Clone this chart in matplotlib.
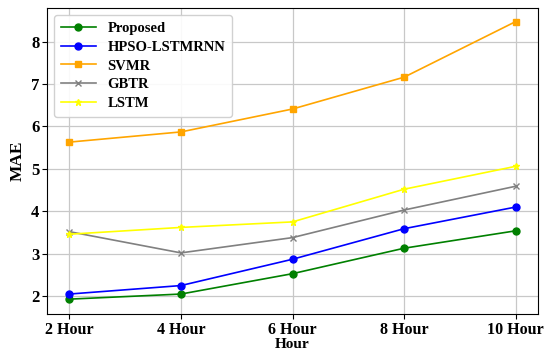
import matplotlib
matplotlib.use("Agg")
import matplotlib.pyplot as plt

plt.rcParams['font.family'] = ['Liberation Serif', 'DejaVu Serif']
plt.rcParams['font.weight'] = 'bold'

hours = ['2 Hour', '4 Hour', '6 Hour', '8 Hour', '10 Hour']
proposed = [1.93, 2.05, 2.53, 3.13, 3.54]
hpso = [2.05, 2.25, 2.87, 3.59, 4.10]
svmr = [5.63, 5.87, 6.41, 7.16, 8.47]
gbtr = [3.52, 3.02, 3.38, 4.03, 4.59]
lstm = [3.46, 3.62, 3.75, 4.52, 5.06]

fig = plt.figure(figsize=(5.47, 3.52), dpi=100)
ax = fig.add_axes([47 / 547, 1 - 314 / 352, 491 / 547, 306 / 352])

x = range(len(hours))
ax.plot(x, proposed, color='green', marker='o', ms=5, lw=1.2, label='Proposed')
ax.plot(x, hpso, color='blue', marker='o', ms=5, lw=1.2, label='HPSO-LSTMRNN')
ax.plot(x, svmr, color='orange', marker='s', ms=5, lw=1.2, label='SVMR')
ax.plot(x, gbtr, color='gray', marker='x', ms=5, lw=1.2, label='GBTR')
ax.plot(x, lstm, color='yellow', marker='*', ms=5, lw=1.2, label='LSTM')

ax.set_xticks(list(x))
ax.set_xticklabels(hours)
ax.set_xlim(-0.2, 4.2)
ax.set_ylim(1.58, 8.79)
ax.set_yticks([2, 3, 4, 5, 6, 7, 8])
ax.tick_params(axis='y', labelsize=12, pad=2)
ax.tick_params(axis='x', labelsize=11.5, pad=2)
for lab in ax.get_xticklabels() + ax.get_yticklabels():
    lab.set_fontweight('bold')
ax.grid(True, color='#c8c8c8', lw=0.9)
ax.set_axisbelow(True)
ax.set_xlabel('Hour', fontsize=11, fontweight='bold', labelpad=0)
ax.set_ylabel('MAE', fontsize=12.5, fontweight='bold', labelpad=4)

ax.legend(loc='upper left', prop={'weight': 'bold', 'size': 10.5},
          handlelength=2.4, labelspacing=0.38, borderpad=0.45, framealpha=0.9)

fig.savefig('out.png', dpi=100)
